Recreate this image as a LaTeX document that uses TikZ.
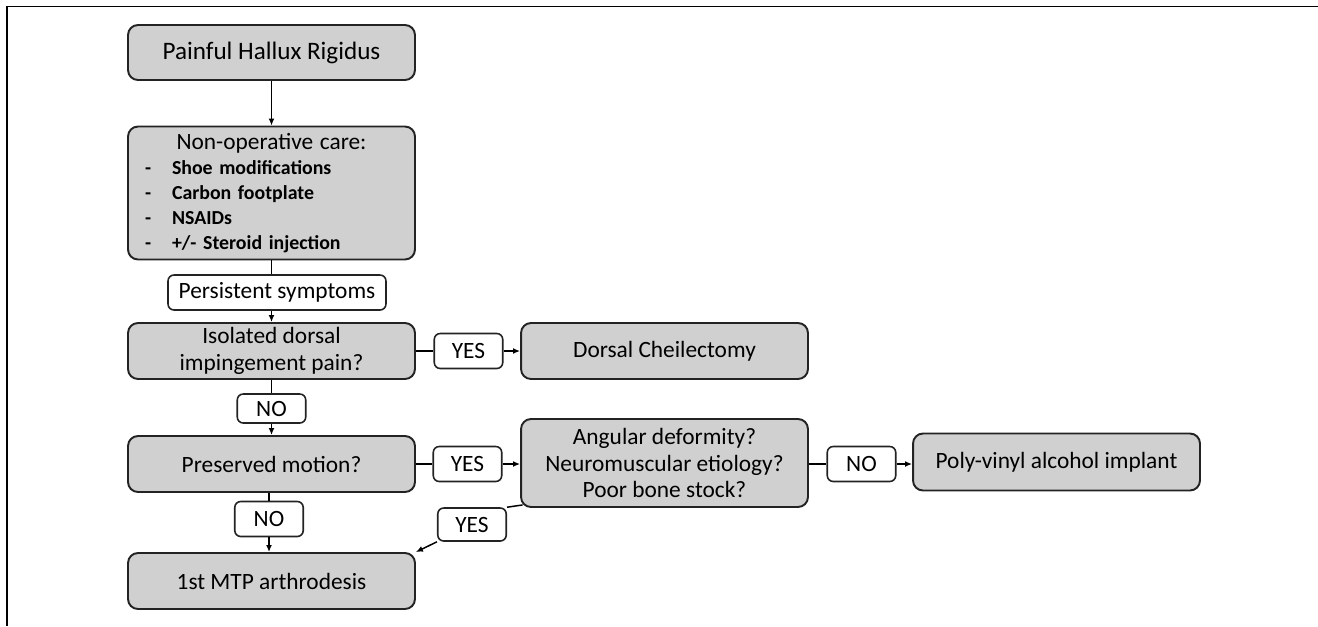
\documentclass[tikz,border=0pt]{standalone}
\usepackage{fontspec}
\setmainfont{Carlito}
\usepackage{tikz}
\usetikzlibrary{arrows.meta}
\definecolor{boxgray}{RGB}{208,208,208}
\definecolor{edgegray}{RGB}{35,35,35}

\begin{document}
\begin{tikzpicture}[x=0.02cm, y=-0.02cm, font=\fontsize{13.3}{15}\selectfont]
    \tikzstyle{stepbox} = [rectangle, rounded corners=0.2cm, draw=edgegray, line width=1.1pt, fill=boxgray, inner sep=0pt, minimum width=5.74cm, minimum height=1.12cm, align=center]
    \tikzstyle{answer} = [rectangle, rounded corners=0.12cm, draw=edgegray, line width=0.9pt, fill=white, inner sep=0pt, minimum width=1.37cm, minimum height=0.7cm]
    \tikzstyle{link} = [line width=0.85pt]
    \tikzstyle{arrow} = [link, -{Latex[length=1.4mm, width=1.2mm]}]

    \useasboundingbox (0,0) rectangle (1318,626);

    % Frame
    \draw[line width=1pt] (1318,6.5) -- (7,6.5) -- (7,626);

    % Left column
    \node[stepbox, minimum height=1.1cm, font=\fontsize{14.3}{15}\selectfont] (painful) at (271.5,52.5) {Painful Hallux Rigidus};
    \node[stepbox, minimum height=2.66cm, text width=5.06cm, align=left,
          font=\fontsize{11.3}{14.2}\selectfont\bfseries] (nonop) at (271.5,193) {%
        \makebox[\linewidth]{\mdseries\fontsize{13.3}{14.2}\selectfont Non-operative care:}\\
        \makebox[0.54cm][l]{-}Shoe modifications\\
        \makebox[0.54cm][l]{-}Carbon footplate\\
        \makebox[0.54cm][l]{-}NSAIDs\\
        \makebox[0.54cm][l]{-}+/- Steroid injection};
    \node[answer, minimum width=4.36cm] (persist) at (277,292.5) {Persistent symptoms};
    \node[stepbox] (isolated) at (271.5,351) {Isolated dorsal\\impingement pain?};
    \node[answer, minimum height=0.58cm] (no1) at (271.5,408.5) {NO};
    \node[stepbox] (preserved) at (271.5,464) {Preserved motion?};
    \node[answer] (no2) at (269,519) {NO};
    \node[stepbox] (mtp) at (271.5,581) {1st MTP arthrodesis};

    % Right side
    \node[answer] (yes1) at (468.5,351) {YES};
    \node[stepbox] (dorsal) at (664.5,351) {Dorsal Cheilectomy};
    \node[answer] (yes2) at (467.5,464) {YES};
    \node[stepbox, minimum height=1.76cm] (angular) at (664.5,463) {Angular deformity?\\Neuromuscular etiology?\\Poor bone stock?};
    \node[answer] (no3) at (861.5,464) {NO};
    \node[stepbox, minimum height=1.14cm] (poly) at (1056.5,462) {Poly-vinyl alcohol implant};
    \node[answer, minimum height=0.66cm] (yes3) at (472,524.5) {YES};

    % Connectors
    \draw[arrow] (painful) -- (nonop);
    \draw[link] (nonop.south) -- (nonop.south |- persist.north);
    \draw[arrow] (persist.south -| isolated.north) -- (isolated.north);
    \draw[link] (isolated) -- (yes1);
    \draw[arrow] (yes1) -- (dorsal);
    \draw[link] (isolated) -- (no1);
    \draw[arrow] (no1) -- (preserved);
    \draw[link] (preserved) -- (yes2);
    \draw[arrow] (yes2) -- (yes2 -| angular.west);
    \draw[link] (no3 -| angular.east) -- (no3);
    \draw[arrow] (no3) -- (no3 -| poly.west);
    \draw[link] (preserved.south -| no2) -- (no2);
    \draw[arrow] (no2) -- (no2 |- mtp.north);
    \draw[link] ([xshift=0.05cm, yshift=0.06cm]angular.south west) -- (yes3.north east);
    \draw[arrow] (yes3.south west) -- (mtp.north east);
\end{tikzpicture}
\end{document}
